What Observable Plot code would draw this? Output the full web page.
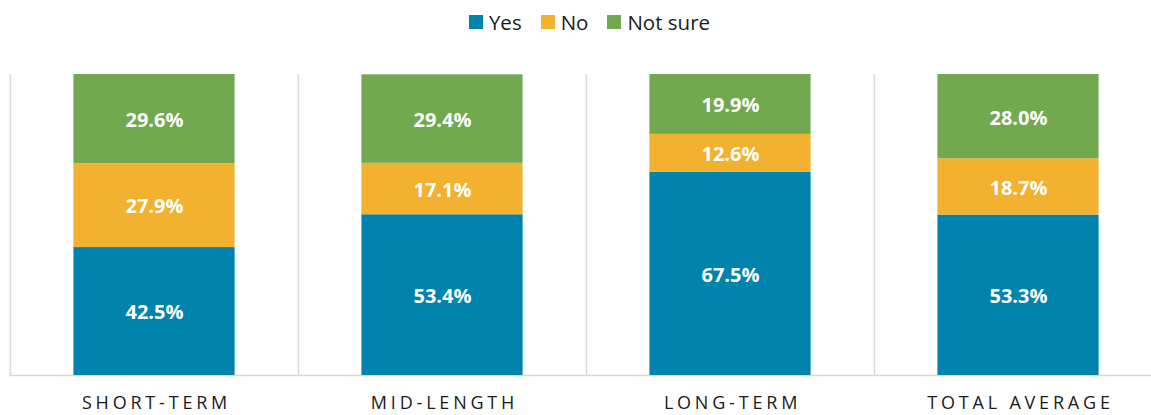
<!DOCTYPE html>
<html><head><meta charset="utf-8">
<script src="https://cdn.jsdelivr.net/npm/d3@7"></script>
<script src="https://cdn.jsdelivr.net/npm/@observablehq/plot@0.6"></script>
<style>
html,body{margin:0;padding:0;background:#fff;overflow:hidden;width:1151px;height:415px;font-family:"Open Sans",sans-serif;}
#legend{height:44px;display:flex;justify-content:center;align-items:center;gap:19px;font-size:20.5px;color:#1a1a1a;padding-left:28px;box-sizing:border-box;}
#legend .item{display:flex;align-items:center;gap:6px;}
#legend .sw{width:14px;height:14px;display:inline-block;}
#chart{width:1171px;}
#chart svg{display:block;overflow:visible;max-width:none !important;}
#chart g[aria-label="x-axis tick label"] text{letter-spacing:3.8px;}
</style></head><body>
<div id="legend"></div>
<div id="chart"></div>
<script>
const categories = ["SHORT-TERM", "MID-LENGTH", "LONG-TERM", "TOTAL AVERAGE"];
const series = ["Yes", "No", "Not sure"];
const yesValues = [42.5, 53.4, 67.5, 53.3];
const noValues = [27.9, 17.1, 12.6, 18.7];
const notSureValues = [29.6, 29.4, 19.9, 28.0];
const seriesColors = ["#0083ad", "#f2b12f", "#72a84f"];

const valuesBySeries = [yesValues, noValues, notSureValues];
const data = [];
categories.forEach((c, i) => {
  series.forEach((s, j) => data.push({category: c, series: s, value: valuesBySeries[j][i]}));
});

// legend
const legend = document.getElementById("legend");
series.forEach((s, j) => {
  const it = document.createElement("span");
  it.className = "item";
  const sw = document.createElement("span");
  sw.className = "sw";
  sw.style.background = seriesColors[j];
  const t = document.createElement("span");
  t.textContent = s;
  it.append(sw, t);
  legend.append(it);
});

const width = 1171, marginLeft = 9, marginRight = 9;
const step = (width - marginLeft - marginRight) / categories.length;
const barInset = step * 0.22;

const plot = Plot.plot({
  width,
  height: 371,
  marginTop: 30,
  marginBottom: 40,
  marginLeft,
  marginRight,
  x: {domain: categories, padding: 0, label: null},
  y: {domain: [0, 100], axis: null},
  color: {domain: series, range: seriesColors},
  style: {fontFamily: "'Open Sans', sans-serif", background: "white", maxWidth: "none"},
  marks: [
    Plot.ruleX(categories, {x: d => d, dx: -step / 2, stroke: "#d9d9d9", strokeWidth: 1.5}),
    Plot.ruleX(categories.slice(-1), {x: d => d, dx: step / 2, stroke: "#d9d9d9", strokeWidth: 1.5}),
    Plot.ruleY([0], {stroke: "#d9d9d9", strokeWidth: 1.5}),
    Plot.barY(data, Plot.stackY({x: "category", y: "value", fill: "series", insetLeft: barInset, insetRight: barInset})),
    Plot.text(data, Plot.stackY({x: "category", y: "value", text: d => d.value.toFixed(1) + "%", fill: "white", fontWeight: "bold", fontSize: 20, dy: 1.5})),
    Plot.axisX({tickSize: 0, tickPadding: 21, fontSize: 18, fill: "#1a1a1a", dx: 2})
  ]
});
document.getElementById("chart").append(plot);
</script>
</body></html>
